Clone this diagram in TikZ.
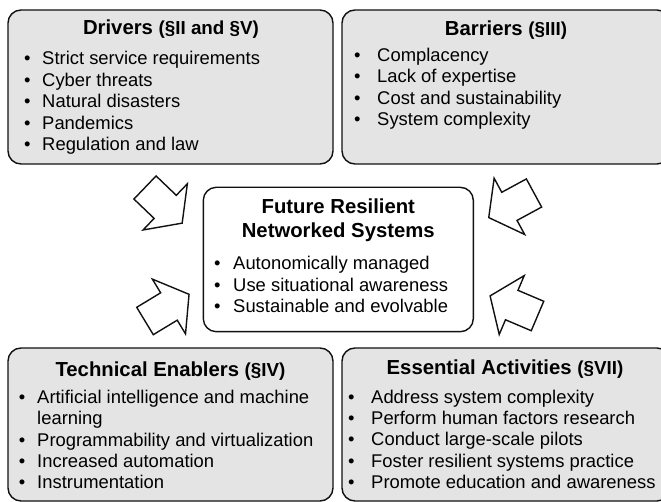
\documentclass[tikz,border=0pt]{standalone}
\usepackage{fontspec}
\setmainfont{Liberation Sans}
\usepackage{xcolor}
\usepackage{tikz}
\definecolor{boxfill}{HTML}{E4E4E4}
\definecolor{edge}{HTML}{111111}
\newcommand{\parenref}[1]{{\fontsize{18.8}{20}\selectfont #1}}
\newcommand{\bulletrows}[2]{\begin{tabular}[t]{@{}l@{\hspace{#1}}l@{}}#2\end{tabular}}
\tikzset{
  panel/.style={draw=edge, line width=1.4pt, fill=boxfill, rounded corners=13pt, inner sep=0pt},
  core/.style={panel, fill=white},
  head/.style={anchor=base, inner sep=0pt, font=\fontsize{20.3}{24}\selectfont\bfseries},
  lst/.style={anchor=base west, inner sep=0pt, font=\fontsize{18.4}{21.4}\selectfont},
  arr/.style={draw=edge, line width=1.4pt, fill=white},
  blockarr/.pic={\draw[arr] (0,-16) -- (28,-16) -- (28,-32) -- (51.5,0) -- (28,32) -- (28,16) -- (0,16) -- cycle;}
}
\begin{document}
\begin{tikzpicture}[x=1pt,y=-1pt]
  \useasboundingbox (0,0) rectangle (661,502);

  % grey panels round the white core
  \node[panel, minimum width=325pt, minimum height=154pt] (drv) at (170.5,87) {};
  \node[panel, minimum width=328pt, minimum height=154pt] (bar) at (506,87) {};
  \node[core, minimum width=270pt, minimum height=144.4pt] (frn) at (338.3,259.5) {};
  \node[panel, minimum width=325pt, minimum height=153pt] (ten) at (170.5,424.5) {};
  \node[panel, minimum width=328pt, minimum height=153pt] (act) at (506,424.5) {};

  \node[head] (drvt) at (171,35) {Drivers \parenref{(§II and §V)}};
  \node[head] (bart) at (506,36) {Barriers \parenref{(§III)}};
  \node[head] (frnt) at (338.3,213.3) {\begin{tabular}[t]{@{}c@{}}Future Resilient\\Networked Systems\end{tabular}};
  \node[head] (tent) at (170.5,376) {Technical Enablers \parenref{(§IV)}};
  \node[head] (actt) at (505,374) {Essential Activities \parenref{(§VII)}};

  \node[lst] (drvl) at (23.8,65) {\bulletrows{11.8pt}{%
    \textbullet & Strict service requirements\\
    \textbullet & Cyber threats\\
    \textbullet & Natural disasters\\
    \textbullet & Pandemics\\
    \textbullet & Regulation and law}};
  \node[lst] (barl) at (353.8,61.5) {\bulletrows{16.8pt}{%
    \textbullet & Complacency\\
    \textbullet & Lack of expertise\\
    \textbullet & Cost and sustainability\\
    \textbullet & System complexity}};
  \node[lst] (frnl) at (213.8,270) {\bulletrows{12.8pt}{%
    \textbullet & Autonomically managed\\
    \textbullet & Use situational awareness\\
    \textbullet & Sustainable and evolvable}};
  \node[lst] (tenl) at (18.8,403.3) {\bulletrows{11.8pt}{%
    \textbullet & Artificial intelligence and machine\\
                & learning\\
    \textbullet & Programmability and virtualization\\
    \textbullet & Increased automation\\
    \textbullet & Instrumentation}};
  \node[lst] (actl) at (347.8,403) {\bulletrows{16.8pt}{%
    \textbullet & Address system complexity\\
    \textbullet & Perform human factors research\\
    \textbullet & Conduct large-scale pilots\\
    \textbullet & Foster resilient systems practice\\
    \textbullet & Promote education and awareness}};

  % block arrows pointing in at the core
  \pic[rotate=-43.8] at (145,187.5) {blockarr};
  \pic[rotate=31.2] at (145,321) {blockarr};
  \pic[rotate=208.5] at (534,193) {blockarr};
  \pic[rotate=157] at (537.5,316) {blockarr};
\end{tikzpicture}
\end{document}
